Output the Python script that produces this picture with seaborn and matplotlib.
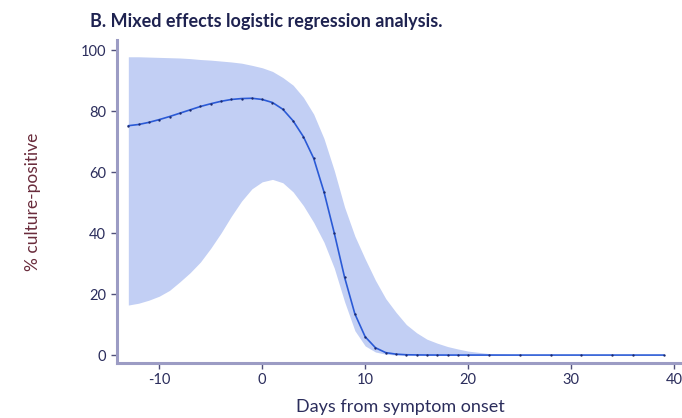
import numpy as np
import pandas as pd
import matplotlib
matplotlib.use("Agg")
import matplotlib.pyplot as plt
import seaborn as sns

# Days from symptom onset with model estimates (% culture-positive)
days = [-13, -12, -11, -10, -9, -8, -7, -6, -5, -4, -3, -2, -1, 0, 1, 2, 3, 4,
        5, 6, 7, 8, 9, 10, 11, 12, 13, 14, 15, 16, 17, 18, 19, 20, 22, 25, 28,
        31, 34, 36, 39]
fit = [75.2, 75.6, 76.3, 77.2, 78.2, 79.3, 80.4, 81.5, 82.4, 83.2, 83.8, 84.1,
       84.2, 83.8, 82.8, 80.6, 76.8, 71.6, 64.5, 53.5, 40.0, 25.5, 13.5, 6.0,
       2.4, 0.8, 0.3, 0.1, 0.05, 0.02, 0.01, 0.0, 0.0, 0.0, 0.0, 0.0, 0.0, 0.0,
       0.0, 0.0, 0.0]
upper = [97.8, 97.8, 97.7, 97.6, 97.5, 97.4, 97.2, 96.9, 96.7, 96.4, 96.1, 95.7,
         95.0, 94.2, 93.0, 91.0, 88.5, 84.5, 79.0, 71.0, 60.5, 48.5, 39.0, 31.5,
         24.5, 18.5, 14.0, 10.0, 7.3, 5.2, 3.9, 2.8, 2.0, 1.3, 0.5, 0.1, 0.0,
         0.0, 0.0, 0.0, 0.0]
lower = [16.4, 17.0, 18.0, 19.3, 21.2, 24.0, 27.0, 30.5, 35.0, 40.0, 45.5, 50.5,
         54.5, 56.8, 57.6, 56.5, 53.5, 49.0, 43.5, 37.0, 28.5, 17.5, 8.0, 3.0,
         1.0, 0.3, 0.0, 0.0, 0.0, 0.0, 0.0, 0.0, 0.0, 0.0, 0.0, 0.0, 0.0, 0.0,
         0.0, 0.0, 0.0]
x_ticks = [-10, 0, 10, 20, 30, 40]
y_ticks = [0, 20, 40, 60, 80, 100]

df = pd.DataFrame({"day": days, "fit": fit, "upper": upper, "lower": lower})

sns.set_style("ticks")
plt.rcParams["font.family"] = ["Lato", "DejaVu Sans"]

navy = "#2b2d5c"
spine_col = "#9c9cc4"
band_col = "#c2cff4"
line_col = "#2a5ad6"

fig = plt.figure(figsize=(6.82, 4.18), dpi=100)
ax = fig.add_axes([117 / 682, 1 - 363 / 418, 1 - 117 / 682 + 0.002, (363 - 40) / 418])

ax.fill_between(df["day"], df["lower"], df["upper"], color=band_col, lw=0, zorder=1)
sns.lineplot(data=df, x="day", y="fit", ax=ax, color=line_col, lw=1.2,
             marker="o", markersize=1.7, markeredgewidth=0,
             markerfacecolor="#1b2a70", zorder=3)

ax.set_xlim(-14.1, 40.9)
ax.set_ylim(-2.6, 103.3)
ax.set_xticks(x_ticks)
ax.set_yticks(y_ticks)
ax.set_xticklabels([str(t) for t in x_ticks])
ax.set_yticklabels([str(t) for t in y_ticks])

for side in ["top", "right"]:
    ax.spines[side].set_visible(False)
for side in ["left", "bottom"]:
    ax.spines[side].set_color(spine_col)
    ax.spines[side].set_linewidth(2.2)

ax.tick_params(axis="both", length=4, width=1, color="#50507a",
               labelsize=10.5, labelcolor=navy, pad=4)
ax.tick_params(axis="x", pad=3)

ax.set_xlabel("Days from symptom onset", fontsize=13, color=navy, labelpad=9)
ax.set_ylabel("% culture-positive", fontsize=12.5, color="#6a2c3c", labelpad=28)

fig.text(90 / 682, 1 - 22 / 418, "B. Mixed effects logistic regression analysis.",
         fontsize=13, fontweight="bold", color="#1e2250", ha="left", va="center",
         family=["Liberation Sans Narrow", "Lato", "DejaVu Sans"])

fig.savefig("out.png", dpi=100)
